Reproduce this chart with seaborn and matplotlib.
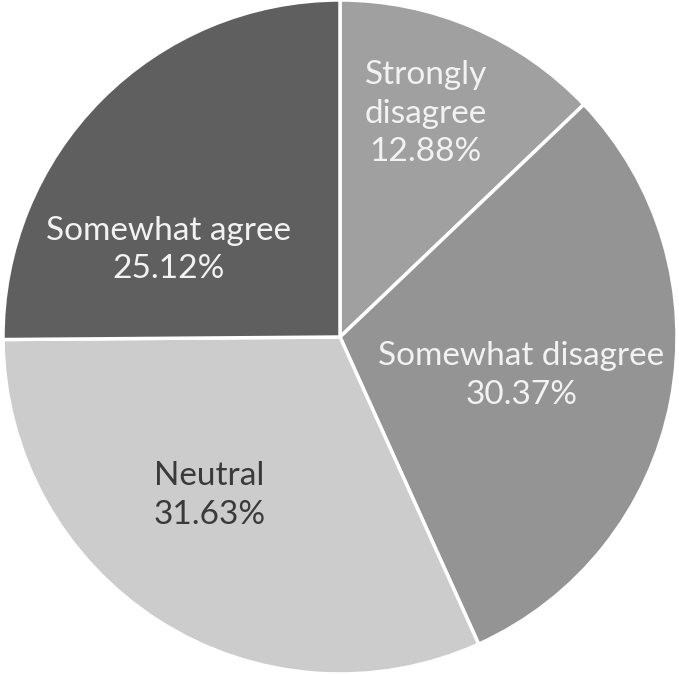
import matplotlib
matplotlib.use("Agg")
import matplotlib.pyplot as plt
import seaborn as sns
import numpy as np

categories = ["Strongly disagree", "Somewhat disagree", "Neutral", "Somewhat agree"]
shares = [12.88, 30.37, 31.63, 25.12]
label_names = ["Strongly\ndisagree", "Somewhat disagree", "Neutral", "Somewhat agree"]

sns.set_theme(style="white")
plt.rcParams["font.family"] = ["Lato", "DejaVu Sans"]

colors = ["#a0a0a0", "#949494", "#cccccc", "#5f5f5f"]
text_colors = ["#f2f2f2", "#f2f2f2", "#3a3a3a", "#f2f2f2"]
# label placement: (distance as fraction of radius, angle in degrees)
label_pos = [(0.71, 69.0), (0.55, -12.0), (0.61, -129.5), (0.57, 153.0)]

fig = plt.figure(figsize=(6.79, 6.74), dpi=100)
ax = fig.add_axes([0, 0, 1, 1])
wedges, _ = ax.pie(shares, colors=colors, startangle=90, counterclock=False,
                   radius=1.0, center=(0, 0),
                   wedgeprops=dict(edgecolor="white", linewidth=2.5))

for name, val, (d, ang), tc in zip(label_names, shares, label_pos, text_colors):
    x = d * np.cos(np.radians(ang))
    y = d * np.sin(np.radians(ang))
    ax.text(x, y, f"{name}\n{val:.2f}%", ha="center", va="center",
            fontsize=24, color=tc, linespacing=1.35)

# pie centre at (340, 337) px, radius ~337 px in a 679x674 canvas
r = 337.0
cx, cy = 340.0, 674 - 337.0
ax.set_xlim(-cx / r, (679 - cx) / r)
ax.set_ylim(-cy / r, (674 - cy) / r)
ax.set_aspect("equal")
ax.axis("off")
fig.savefig("out.png", dpi=100, facecolor="white")
